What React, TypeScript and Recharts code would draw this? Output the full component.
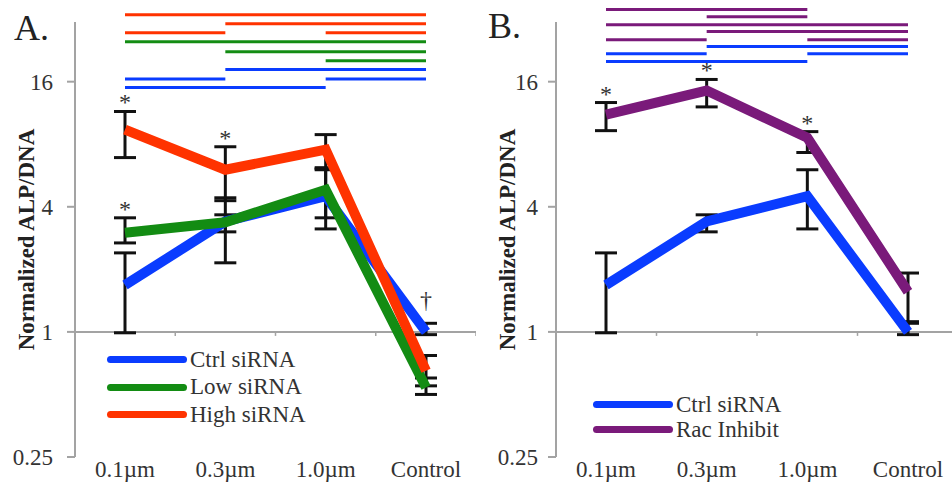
import React from 'react'
import { LineChart, Line, XAxis, YAxis, ErrorBar, ReferenceLine, ReferenceDot, Legend } from 'recharts'

const SERIF = '"Liberation Serif", "Times New Roman", serif'

const categories = ['0.1µm', '0.3µm', '1.0µm', 'Control']
const yTicks = [0.25, 1, 4, 16]

// Ctrl siRNA (shared by both panels)
const ctrlMean = [1.68, 3.4, 4.5, 1.0]
const ctrlLow = [0.99, 3.03, 3.13, 0.97]
const ctrlHigh = [2.4, 3.66, 6.03, 1.1]

// Low siRNA
const lowMean = [3.0, 3.37, 4.83, 0.54]
const lowLow = [2.68, 2.15, 3.54, 0.5]
const lowHigh = [3.54, 4.42, 6.1, 0.6]

// High siRNA
const highMean = [9.4, 6.03, 7.53, 0.65]
const highLow = [6.9, 4.28, 6.17, 0.55]
const highHigh = [11.5, 7.78, 8.9, 0.77]

// Rac Inhibit
const racMean = [11.1, 14.5, 8.6, 1.56]
const racLow = [9.3, 12.1, 7.3, 1.12]
const racHigh = [12.7, 16.4, 9.2, 1.92]

// significance brackets: level (y value) + category index spans
const sigA = [
  { series: 'high', level: 33.6, spans: [[0, 3]] },
  { series: 'high', level: 30.4, spans: [[1, 3]] },
  { series: 'high', level: 27.5, spans: [[0, 1], [2, 3]] },
  { series: 'low', level: 24.9, spans: [[0, 3]] },
  { series: 'low', level: 22.3, spans: [[1, 3]] },
  { series: 'low', level: 20.2, spans: [[2, 3]] },
  { series: 'ctrl', level: 18.3, spans: [[1, 3]] },
  { series: 'ctrl', level: 16.5, spans: [[0, 1], [2, 3]] },
  { series: 'ctrl', level: 15.0, spans: [[0, 2]] },
]
const sigB = [
  { series: 'rac', level: 35.6, spans: [[0, 2]] },
  { series: 'rac', level: 32.9, spans: [[1, 2]] },
  { series: 'rac', level: 30.1, spans: [[0, 3]] },
  { series: 'rac', level: 27.9, spans: [[1, 3]] },
  { series: 'rac', level: 25.5, spans: [[0, 1], [2, 3]] },
  { series: 'ctrl', level: 23.6, spans: [[1, 3]] },
  { series: 'ctrl', level: 21.8, spans: [[0, 1], [2, 3]] },
  { series: 'ctrl', level: 20.0, spans: [[0, 2]] },
]

const marksA = [
  { series: 'high', idx: 0, sym: '*' },
  { series: 'low', idx: 0, sym: '*' },
  { series: 'high', idx: 1, sym: '*' },
  { series: 'ctrl', idx: 3, sym: '†' },
]
const marksB = [
  { series: 'rac', idx: 0, sym: '*' },
  { series: 'rac', idx: 1, sym: '*' },
  { series: 'rac', idx: 2, sym: '*' },
]

const COLORS: Record<string, string> = { ctrl: '#0a3cff', low: '#138c13', high: '#ff3300', rac: '#7a1a7a' }
const NAMES: Record<string, string> = { ctrl: 'Ctrl siRNA', low: 'Low siRNA', high: 'High siRNA', rac: 'Rac Inhibit' }
const MEAN: Record<string, number[]> = { ctrl: ctrlMean, low: lowMean, high: highMean, rac: racMean }
const LOW: Record<string, number[]> = { ctrl: ctrlLow, low: lowLow, high: highLow, rac: racLow }
const HIGH: Record<string, number[]> = { ctrl: ctrlHigh, low: lowHigh, high: highHigh, rac: racHigh }

const rows = categories.map((cat, i) => {
  const r: any = { cat }
  for (const k of Object.keys(MEAN)) {
    r[k] = MEAN[k][i]
    r[k + 'Err'] = [MEAN[k][i] - LOW[k][i], HIGH[k][i] - MEAN[k][i]]
  }
  return r
})

const AXIS_GRAY = '#a3a3a3'

// horizontal axis crossing at 1, with small ticks between categories
function AxisAtOne(props: any) {
  const { x1, x2, y1 } = props
  const step = (x2 - x1) / categories.length
  return (
    <g>
      <line x1={x1} y1={y1} x2={x2} y2={y1} stroke={AXIS_GRAY} strokeWidth={2} />
      {categories.map((_, i) => (
        <line key={i} x1={x1 + step * (i + 1)} x2={x1 + step * (i + 1)} y1={y1} y2={y1 + 4} stroke={AXIS_GRAY} strokeWidth={1.5} />
      ))}
    </g>
  )
}

function LegendBox({ payload, rowH, order }: any) {
  const items = (payload || [])
    .filter((p: any) => p.color && p.color !== 'none' && p.type !== 'none')
    .sort((a: any, b: any) => order.indexOf(a.value) - order.indexOf(b.value))
  return (
    <div>
      {items.map((p: any) => (
        <div key={p.value} style={{ display: 'flex', alignItems: 'center', height: rowH }}>
          <span style={{ width: 80, height: 7, borderRadius: 4, background: p.color, display: 'inline-block' }} />
          <span style={{ fontFamily: SERIF, fontSize: 23, color: '#333', marginLeft: 3, whiteSpace: 'nowrap' }}>{p.value}</span>
        </div>
      ))}
    </div>
  )
}

interface PanelProps {
  series: string[]
  sig: typeof sigA
  marks: typeof marksA
  width: number
  axisW: number
  tickGap: number
  titleX: number
  legendX: number
  legendY: number
  rowH: number
}

function Panel({ series, sig, marks, width, axisW, tickGap, titleX, legendX, legendY, rowH }: PanelProps) {
  const tickStyle = { fontFamily: SERIF, fontSize: 23, fill: '#333' }
  return (
    <LineChart width={width} height={485} data={rows} margin={{ top: 22, right: 0, bottom: 0, left: 0 }}>
      <XAxis
        dataKey="cat"
        padding={{ left: 50, right: 50 }}
        axisLine={false}
        tickLine={false}
        tickSize={0}
        tickMargin={4}
        height={28}
        interval={0}
        tick={tickStyle}
      />
      <YAxis
        type="number"
        scale="log"
        domain={[0.25, 31]}
        allowDataOverflow
        ticks={yTicks}
        width={axisW}
        tickSize={8}
        tickMargin={tickGap}
        axisLine={{ stroke: AXIS_GRAY, strokeWidth: 2 }}
        tickLine={{ stroke: AXIS_GRAY, strokeWidth: 2 }}
        tick={tickStyle}
        label={(p: any) => {
          const vb = p.viewBox || { y: 22, height: 435 }
          const cy = vb.y + vb.height / 2
          return (
            <text
              x={titleX}
              y={cy}
              transform={`rotate(-90 ${titleX} ${cy})`}
              textAnchor="middle"
              dominantBaseline="central"
              style={{ fontFamily: SERIF, fontSize: 23, fontWeight: 700, fill: '#222' }}
            >
              Normalized ALP/DNA
            </text>
          )
        }}
      />
      <ReferenceLine y={1} shape={AxisAtOne} />
      {sig.flatMap((s, r) =>
        s.spans.map(([a, b], j) => (
          <ReferenceLine
            key={`sig-${r}-${j}`}
            segment={[{ x: categories[a], y: s.level }, { x: categories[b], y: s.level }]}
            stroke={COLORS[s.series]}
            strokeWidth={3}
            ifOverflow="visible"
          />
        ))
      )}
      {series.map(k => (
        <Line key={k + '-err'} dataKey={k} stroke="none" dot={false} activeDot={false} legendType="none" isAnimationActive={false}>
          <ErrorBar dataKey={k + 'Err'} width={11} stroke="#111" strokeWidth={3} isAnimationActive={false} />
        </Line>
      ))}
      {series.map(k => (
        <Line
          key={k}
          dataKey={k}
          name={NAMES[k]}
          stroke={COLORS[k]}
          strokeWidth={10}
          dot={false}
          activeDot={false}
          isAnimationActive={false}
        />
      ))}
      {marks.map((m, i) => (
        <ReferenceDot
          key={`mark-${i}`}
          x={categories[m.idx]}
          y={HIGH[m.series][m.idx]}
          r={0}
          shape={(p: any) => (
            <text
              x={p.cx}
              y={p.cy + (m.sym === '*' ? -1 : -15)}
              textAnchor="middle"
              style={{ fontFamily: SERIF, fontSize: 24, fill: '#333' }}
            >
              {m.sym}
            </text>
          )}
        />
      ))}
      <Legend
        layout="vertical"
        align="center"
        verticalAlign="middle"
        wrapperStyle={{ left: legendX, top: legendY, width: 'auto' }}
        content={(p: any) => <LegendBox payload={p.payload} rowH={rowH} order={series.map(k => NAMES[k])} />}
      />
    </LineChart>
  )
}

export default function App() {
  const letter = { position: 'absolute' as const, fontFamily: SERIF, fontSize: 36, lineHeight: '36px', color: '#222' }
  return (
    <div style={{ position: 'absolute', left: 0, top: 0, width: 952, height: 485, overflow: 'hidden', background: '#fff' }}>
      <div style={{ position: 'absolute', left: 0, top: 0 }}>
        <Panel
          series={['ctrl', 'low', 'high']}
          sig={sigA}
          marks={marksA}
          width={476}
          axisW={75}
          tickGap={14}
          titleX={26}
          legendX={107}
          legendY={346}
          rowH={27.5}
        />
      </div>
      <div style={{ position: 'absolute', left: 476, top: 0 }}>
        <Panel
          series={['ctrl', 'rac']}
          sig={sigB}
          marks={marksB}
          width={482}
          axisW={80}
          tickGap={10}
          titleX={31}
          legendX={117}
          legendY={392}
          rowH={25}
        />
      </div>
      <div style={{ ...letter, left: 14, top: 10 }}>A.</div>
      <div style={{ ...letter, left: 488, top: 8 }}>B.</div>
    </div>
  )
}
